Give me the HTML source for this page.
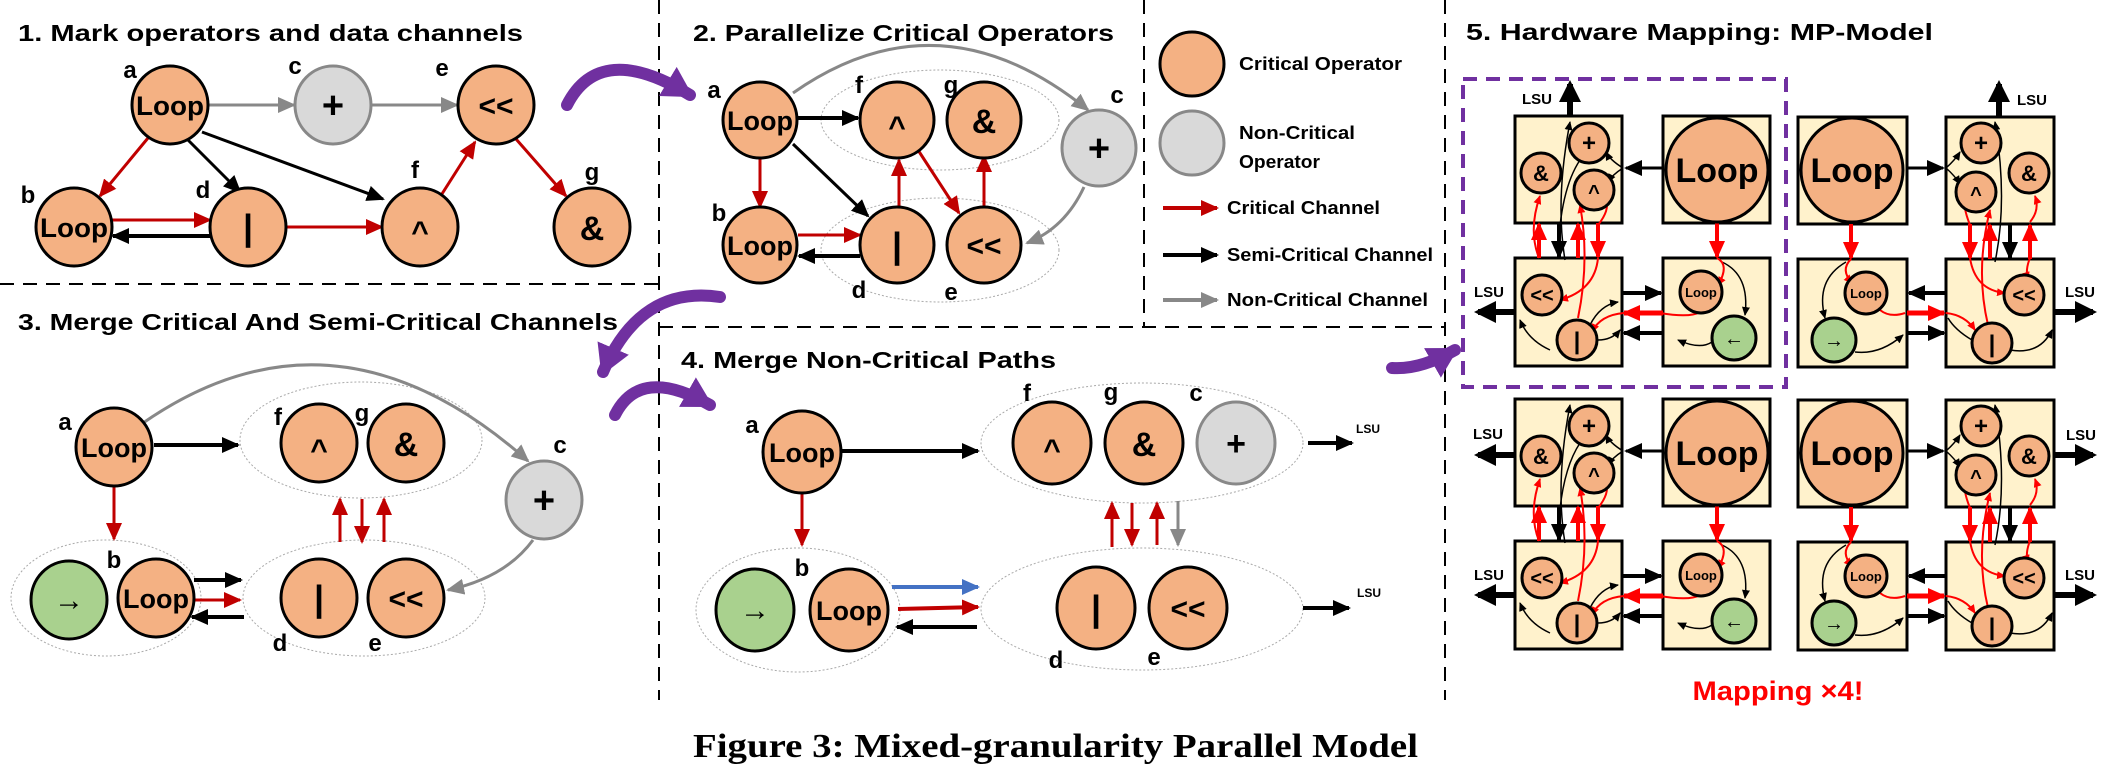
<!DOCTYPE html>
<html><head><meta charset="utf-8"><style>
html,body{margin:0;padding:0;background:#fff;}
svg{display:block;}
text{font-family:"Liberation Sans",sans-serif;font-weight:bold;}
</style></head><body>
<svg width="2108" height="776" viewBox="0 0 2108 776" xmlns="http://www.w3.org/2000/svg">
<defs>
<marker id="r" markerUnits="userSpaceOnUse" markerWidth="18" markerHeight="16" refX="16" refY="8" orient="auto"><path d="M0,0 L18,8 L0,16 z" fill="#c00000"/></marker>
<marker id="k" markerUnits="userSpaceOnUse" markerWidth="18" markerHeight="16" refX="16" refY="8" orient="auto"><path d="M0,0 L18,8 L0,16 z" fill="#000"/></marker>
<marker id="g" markerUnits="userSpaceOnUse" markerWidth="18" markerHeight="16" refX="16" refY="8" orient="auto"><path d="M0,0 L18,8 L0,16 z" fill="#888"/></marker>
<marker id="b" markerUnits="userSpaceOnUse" markerWidth="18" markerHeight="16" refX="16" refY="8" orient="auto"><path d="M0,0 L18,8 L0,16 z" fill="#4472c4"/></marker>
<marker id="R" markerUnits="userSpaceOnUse" markerWidth="18" markerHeight="16" refX="16" refY="8" orient="auto"><path d="M0,0 L18,8 L0,16 z" fill="#ff0000"/></marker>
<marker id="rs" markerUnits="userSpaceOnUse" markerWidth="9" markerHeight="8" refX="8" refY="4" orient="auto"><path d="M0,0 L9,4 L0,8 z" fill="#ff0000"/></marker>
<marker id="ks" markerUnits="userSpaceOnUse" markerWidth="9" markerHeight="8" refX="8" refY="4" orient="auto"><path d="M0,0 L9,4 L0,8 z" fill="#000"/></marker>
<marker id="p" markerUnits="userSpaceOnUse" markerWidth="34" markerHeight="34" refX="26" refY="17" orient="auto"><path d="M0,0 L30,17 L0,34 z" fill="#7030a0"/></marker>
<marker id="K" markerUnits="userSpaceOnUse" markerWidth="22" markerHeight="22" refX="18" refY="11" orient="auto"><path d="M0,0 L22,11 L0,22 z" fill="#000"/></marker>
</defs>

<g stroke="#000" stroke-width="2" stroke-dasharray="14,9" fill="none">
<line x1="659" y1="0" x2="659" y2="700"/>
<line x1="0" y1="284" x2="659" y2="284"/>
<line x1="1144" y1="0" x2="1144" y2="327"/>
<line x1="659" y1="327" x2="1445" y2="327"/>
<line x1="1445" y1="0" x2="1445" y2="700"/>
</g>

<g font-size="23" fill="#000">
<text x="18" y="41" textLength="505" lengthAdjust="spacingAndGlyphs">1. Mark operators and data channels</text>
<text x="693" y="41" textLength="421" lengthAdjust="spacingAndGlyphs">2. Parallelize Critical Operators</text>
<text x="18" y="330" textLength="600" lengthAdjust="spacingAndGlyphs">3. Merge Critical And Semi-Critical Channels</text>
<text x="681" y="368" textLength="375" lengthAdjust="spacingAndGlyphs">4. Merge Non-Critical Paths</text>
<text x="1466" y="40" textLength="467" lengthAdjust="spacingAndGlyphs">5. Hardware Mapping:  MP-Model</text>
</g>

<!-- PANEL 1 -->
<g stroke-width="3" fill="none">
<line x1="208" y1="105" x2="294" y2="105" stroke="#888" marker-end="url(#g)"/>
<line x1="372" y1="105" x2="457" y2="105" stroke="#888" marker-end="url(#g)"/>
<line x1="148" y1="138" x2="100" y2="196" stroke="#c00000" marker-end="url(#r)"/>
<line x1="188" y1="140" x2="240" y2="192" stroke="#000" marker-end="url(#k)"/>
<line x1="202" y1="132" x2="383" y2="199" stroke="#000" marker-end="url(#k)"/>
<line x1="112" y1="220" x2="210" y2="220" stroke="#c00000" marker-end="url(#r)"/>
<line x1="210" y1="236" x2="113" y2="236" stroke="#000" stroke-width="4" marker-end="url(#k)"/>
<line x1="282" y1="227" x2="382" y2="227" stroke="#c00000" marker-end="url(#r)"/>
<line x1="440" y1="197" x2="475" y2="142" stroke="#c00000" marker-end="url(#r)"/>
<line x1="516" y1="139" x2="566" y2="196" stroke="#c00000" marker-end="url(#r)"/>
</g>
<g stroke="#000" stroke-width="3" fill="#f4b183">
<ellipse cx="170" cy="105" rx="38" ry="39"/>
<ellipse cx="496" cy="105" rx="38" ry="39"/>
<ellipse cx="74" cy="227" rx="38" ry="39"/>
<ellipse cx="248" cy="227" rx="38" ry="39"/>
<ellipse cx="420" cy="227" rx="38" ry="39"/>
<ellipse cx="592" cy="227" rx="38" ry="39"/>
<ellipse cx="333" cy="105" rx="38" ry="39" fill="#d9d9d9" stroke="#888"/>
</g>
<g text-anchor="middle" fill="#000">
<text x="170" y="115" font-size="27" textLength="68" lengthAdjust="spacingAndGlyphs">Loop</text>
<text x="74" y="237" font-size="27" textLength="68" lengthAdjust="spacingAndGlyphs">Loop</text>
<text x="333" y="118" font-size="38">+</text>
<text x="496" y="116" font-size="30">&lt;&lt;</text>
<text x="248" y="240" font-size="36">|</text>
<text x="420" y="242" font-size="30">^</text>
<text x="592" y="240" font-size="34">&amp;</text>
</g>
<g font-size="24" fill="#000" text-anchor="middle">
<text x="130" y="78">a</text><text x="295" y="74">c</text><text x="442" y="76">e</text>
<text x="28" y="203">b</text><text x="203" y="198">d</text><text x="415" y="178">f</text><text x="592" y="180">g</text>
</g>

<!-- PANEL 2 -->
<g fill="none" stroke="#aaa" stroke-width="1" stroke-dasharray="2,2">
<ellipse cx="940" cy="120" rx="119" ry="50"/>
<ellipse cx="940" cy="250" rx="119" ry="52"/>
</g>
<g stroke-width="3" fill="none">
<path d="M793,93 Q940,-10 1088,110" stroke="#888" marker-end="url(#g)"/>
<path d="M1084,187 Q1065,228 1027,243" stroke="#888" marker-end="url(#g)"/>
<line x1="797" y1="118" x2="858" y2="118" stroke="#000" stroke-width="4" marker-end="url(#k)"/>
<line x1="793" y1="144" x2="868" y2="216" stroke="#000" marker-end="url(#k)"/>
<line x1="760" y1="155" x2="760" y2="207" stroke="#c00000" marker-end="url(#r)"/>
<line x1="798" y1="235" x2="860" y2="235" stroke="#c00000" marker-end="url(#r)"/>
<line x1="860" y1="256" x2="799" y2="256" stroke="#000" stroke-width="4" marker-end="url(#k)"/>
<line x1="899" y1="213" x2="899" y2="160" stroke="#c00000" marker-end="url(#r)"/>
<line x1="918" y1="150" x2="959" y2="213" stroke="#c00000" marker-end="url(#r)"/>
<line x1="984" y1="208" x2="984" y2="156" stroke="#c00000" marker-end="url(#r)"/>
</g>
<g stroke="#000" stroke-width="3" fill="#f4b183">
<ellipse cx="760" cy="120" rx="37" ry="38"/>
<ellipse cx="760" cy="245" rx="37" ry="38"/>
<ellipse cx="897" cy="120" rx="37" ry="38"/>
<ellipse cx="984" cy="120" rx="37" ry="38"/>
<ellipse cx="897" cy="245" rx="37" ry="38"/>
<ellipse cx="984" cy="245" rx="37" ry="38"/>
<ellipse cx="1099" cy="148" rx="37" ry="38" fill="#d9d9d9" stroke="#888"/>
</g>
<g text-anchor="middle" fill="#000">
<text x="760" y="130" font-size="27" textLength="66" lengthAdjust="spacingAndGlyphs">Loop</text>
<text x="760" y="255" font-size="27" textLength="66" lengthAdjust="spacingAndGlyphs">Loop</text>
<text x="897" y="137" font-size="30">^</text>
<text x="984" y="133" font-size="34">&amp;</text>
<text x="897" y="258" font-size="36">|</text>
<text x="984" y="256" font-size="30">&lt;&lt;</text>
<text x="1099" y="161" font-size="38">+</text>
</g>
<g font-size="24" fill="#000" text-anchor="middle">
<text x="714" y="98">a</text><text x="859" y="93">f</text><text x="951" y="93">g</text><text x="1117" y="103">c</text>
<text x="719" y="221">b</text><text x="859" y="298">d</text><text x="951" y="300">e</text>
</g>

<ellipse cx="1192" cy="64" rx="32" ry="32" fill="#f4b183" stroke="#000" stroke-width="3"/>
<ellipse cx="1192" cy="143" rx="32" ry="32" fill="#d9d9d9" stroke="#888" stroke-width="3"/>
<g stroke-width="4">
<line x1="1163" y1="208" x2="1217" y2="208" stroke="#c00000" marker-end="url(#r)"/>
<line x1="1163" y1="255" x2="1217" y2="255" stroke="#000" marker-end="url(#k)"/>
<line x1="1163" y1="300" x2="1217" y2="300" stroke="#888" marker-end="url(#g)"/>
</g>
<g font-size="18" fill="#000">
<text x="1239" y="70" textLength="163" lengthAdjust="spacingAndGlyphs">Critical Operator</text>
<text x="1239" y="139" textLength="116" lengthAdjust="spacingAndGlyphs">Non-Critical</text>
<text x="1239" y="168" textLength="81" lengthAdjust="spacingAndGlyphs">Operator</text>
<text x="1227" y="214" textLength="153" lengthAdjust="spacingAndGlyphs">Critical Channel</text>
<text x="1227" y="261" textLength="206" lengthAdjust="spacingAndGlyphs">Semi-Critical Channel</text>
<text x="1227" y="306" textLength="201" lengthAdjust="spacingAndGlyphs">Non-Critical Channel</text>
</g>

<!-- PANEL 3 -->
<g fill="none" stroke="#aaa" stroke-width="1" stroke-dasharray="2,2">
<ellipse cx="361" cy="440" rx="121" ry="58"/>
<ellipse cx="106" cy="598" rx="95" ry="58"/>
<ellipse cx="364" cy="598" rx="121" ry="58"/>
</g>
<g stroke-width="3" fill="none">
<path d="M143,423 Q335,290 528,461" stroke="#888" marker-end="url(#g)"/>
<path d="M533,540 Q505,578 448,590" stroke="#888" marker-end="url(#g)"/>
<line x1="154" y1="445" x2="238" y2="445" stroke="#000" stroke-width="4" marker-end="url(#k)"/>
<line x1="114" y1="487" x2="114" y2="539" stroke="#c00000" marker-end="url(#r)"/>
<line x1="340" y1="542" x2="340" y2="499" stroke="#c00000" marker-end="url(#r)"/>
<line x1="362" y1="499" x2="362" y2="542" stroke="#c00000" marker-end="url(#r)"/>
<line x1="384" y1="542" x2="384" y2="499" stroke="#c00000" marker-end="url(#r)"/>
<line x1="194" y1="580" x2="241" y2="580" stroke="#000" stroke-width="4" marker-end="url(#k)"/>
<line x1="194" y1="600" x2="240" y2="600" stroke="#c00000" marker-end="url(#r)"/>
<line x1="244" y1="617" x2="192" y2="617" stroke="#000" stroke-width="4" marker-end="url(#k)"/>
</g>
<g stroke="#000" stroke-width="3" fill="#f4b183">
<ellipse cx="114" cy="447" rx="38" ry="39"/>
<ellipse cx="319" cy="443" rx="38" ry="39"/>
<ellipse cx="406" cy="443" rx="38" ry="39"/>
<ellipse cx="69" cy="600" rx="38" ry="39" fill="#a9d18e"/>
<ellipse cx="156" cy="598" rx="38" ry="39"/>
<ellipse cx="319" cy="598" rx="38" ry="39"/>
<ellipse cx="406" cy="598" rx="38" ry="39"/>
<ellipse cx="544" cy="500" rx="38" ry="39" fill="#d9d9d9" stroke="#888"/>
</g>
<g text-anchor="middle" fill="#000">
<text x="114" y="457" font-size="27" textLength="66" lengthAdjust="spacingAndGlyphs">Loop</text>
<text x="156" y="608" font-size="27" textLength="66" lengthAdjust="spacingAndGlyphs">Loop</text>
<text x="319" y="460" font-size="30">^</text>
<text x="406" y="456" font-size="34">&amp;</text>
<text x="319" y="611" font-size="36">|</text>
<text x="406" y="609" font-size="30">&lt;&lt;</text>
<text x="544" y="513" font-size="38">+</text>
<text x="69" y="610" font-size="30">→</text>
</g>
<g font-size="24" fill="#000" text-anchor="middle">
<text x="65" y="430">a</text><text x="278" y="425">f</text><text x="362" y="421">g</text><text x="560" y="453">c</text>
<text x="114" y="568">b</text><text x="280" y="651">d</text><text x="375" y="651">e</text>
</g>

<!-- PANEL 4 -->
<g fill="none" stroke="#aaa" stroke-width="1" stroke-dasharray="2,2">
<ellipse cx="1142" cy="443" rx="161" ry="60"/>
<ellipse cx="798" cy="610" rx="102" ry="62"/>
<ellipse cx="1142" cy="609" rx="161" ry="61"/>
</g>
<g stroke-width="3" fill="none">
<line x1="842" y1="451" x2="978" y2="451" stroke="#000" stroke-width="4" marker-end="url(#k)"/>
<line x1="802" y1="493" x2="802" y2="545" stroke="#c00000" marker-end="url(#r)"/>
<line x1="892" y1="587" x2="978" y2="587" stroke="#4472c4" stroke-width="4" marker-end="url(#b)"/>
<line x1="898" y1="609" x2="978" y2="607" stroke="#c00000" stroke-width="4" marker-end="url(#r)"/>
<line x1="977" y1="627" x2="897" y2="627" stroke="#000" stroke-width="4" marker-end="url(#k)"/>
<line x1="1112" y1="547" x2="1112" y2="503" stroke="#c00000" marker-end="url(#r)"/>
<line x1="1132" y1="503" x2="1132" y2="545" stroke="#c00000" marker-end="url(#r)"/>
<line x1="1157" y1="545" x2="1157" y2="503" stroke="#c00000" marker-end="url(#r)"/>
<line x1="1178" y1="501" x2="1178" y2="545" stroke="#888" marker-end="url(#g)"/>
<line x1="1308" y1="443" x2="1352" y2="443" stroke="#000" stroke-width="4" marker-end="url(#k)"/>
<line x1="1303" y1="608" x2="1349" y2="608" stroke="#000" stroke-width="4" marker-end="url(#k)"/>
</g>
<g stroke="#000" stroke-width="3" fill="#f4b183">
<ellipse cx="802" cy="452" rx="39" ry="41"/>
<ellipse cx="1052" cy="443" rx="39" ry="41"/>
<ellipse cx="1144" cy="443" rx="39" ry="41"/>
<ellipse cx="1236" cy="443" rx="39" ry="41" fill="#d9d9d9" stroke="#888"/>
<ellipse cx="755" cy="610" rx="39" ry="41" fill="#a9d18e"/>
<ellipse cx="849" cy="610" rx="39" ry="41"/>
<ellipse cx="1096" cy="608" rx="39" ry="41"/>
<ellipse cx="1188" cy="608" rx="39" ry="41"/>
</g>
<g text-anchor="middle" fill="#000">
<text x="802" y="462" font-size="27" textLength="66" lengthAdjust="spacingAndGlyphs">Loop</text>
<text x="849" y="620" font-size="27" textLength="66" lengthAdjust="spacingAndGlyphs">Loop</text>
<text x="1052" y="460" font-size="30">^</text>
<text x="1144" y="456" font-size="34">&amp;</text>
<text x="1236" y="455" font-size="34" font-weight="normal">+</text>
<text x="1096" y="621" font-size="36">|</text>
<text x="1188" y="619" font-size="30">&lt;&lt;</text>
<text x="755" y="620" font-size="30">→</text>
</g>
<g font-size="24" fill="#000" text-anchor="middle">
<text x="752" y="433">a</text><text x="1027" y="401">f</text><text x="1111" y="400">g</text><text x="1196" y="401">c</text>
<text x="802" y="576">b</text><text x="1056" y="668">d</text><text x="1154" y="665">e</text>
</g>
<g font-size="12" fill="#000"><text x="1356" y="433">LSU</text><text x="1357" y="597">LSU</text></g>

<g stroke="#7030a0" stroke-width="12" fill="none" stroke-linecap="round">
<path d="M567,105 Q600,40 690,95" marker-end="url(#p)"/>
<path d="M720,297 Q640,285 603,372" marker-end="url(#p)"/>
<path d="M615,415 Q640,365 710,405" marker-end="url(#p)"/>
<path d="M1392,368 Q1420,370 1455,350" marker-end="url(#p)"/>
</g>

<!-- PANEL 5 -->
<rect x="1463" y="79" width="323" height="308" fill="none" stroke="#7030a0" stroke-width="4" stroke-dasharray="14,9"/>

<g id="unit">
<g fill="#fff2cc" stroke="#000" stroke-width="3">
<rect x="1515" y="116" width="107" height="107"/>
<rect x="1663" y="116" width="107" height="107"/>
<rect x="1798" y="117" width="109" height="107"/>
<rect x="1946" y="117" width="108" height="107"/>
<rect x="1515" y="258" width="107" height="108"/>
<rect x="1663" y="258" width="107" height="108"/>
<rect x="1798" y="259" width="109" height="108"/>
<rect x="1946" y="259" width="108" height="108"/>
</g>
<g fill="none" stroke="#000" stroke-width="1.5">
<path d="M1565,260 Q1555,200 1570,122" marker-end="url(#ks)"/>
<path d="M1580,160 Q1560,190 1558,255"/>
<path d="M1550,350 Q1528,340 1520,320" marker-end="url(#ks)"/>
<path d="M1590,325 Q1600,305 1618,302" marker-end="url(#ks)"/>
<path d="M1598,340 Q1612,340 1620,330" marker-end="url(#ks)"/>
<path d="M1722,262 Q1750,275 1745,315" marker-end="url(#ks)"/>
<path d="M1712,342 Q1700,350 1678,340" marker-end="url(#ks)"/>
<path d="M1623,168 Q1610,160 1606,152" marker-end="url(#ks)"/>
<path d="M1623,168 Q1612,175 1608,182" marker-end="url(#ks)"/>
<path d="M1995,262 Q2008,200 1995,122" marker-end="url(#ks)"/>
<path d="M1846,262 Q1815,280 1825,318" marker-end="url(#ks)"/>
<path d="M1855,352 Q1880,355 1903,335" marker-end="url(#ks)"/>
<path d="M1972,340 Q1955,330 1948,318"/>
<path d="M2010,350 Q2040,355 2052,330" marker-end="url(#ks)"/>
<path d="M1946,168 Q1955,160 1960,152" marker-end="url(#ks)"/>
<path d="M1946,168 Q1955,176 1960,184" marker-end="url(#ks)"/>
</g>
<g fill="none" stroke="#ff0000" stroke-width="2">
<path d="M1539,258 Q1528,230 1540,196" marker-end="url(#rs)"/>
<path d="M1578,318 Q1590,260 1580,205" marker-end="url(#rs)"/>
<path d="M1598,225 Q1610,210 1606,200"/>
<path d="M1598,258 Q1595,290 1560,300" marker-end="url(#rs)"/>
<path d="M1717,258 Q1730,265 1718,285" marker-end="url(#rs)"/>
<path d="M1700,312 Q1690,318 1660,313"/>
<path d="M1624,313 Q1600,315 1592,332" marker-end="url(#rs)"/>
<path d="M1851,259 Q1840,270 1852,283" marker-end="url(#rs)"/>
<path d="M1880,310 Q1890,318 1905,313"/>
<path d="M1946,313 Q1965,315 1975,330" marker-end="url(#rs)"/>
<path d="M1970,225 Q1962,205 1966,198"/>
<path d="M1988,325 Q1975,270 1990,210" marker-end="url(#rs)"/>
<path d="M1970,258 Q1975,290 2005,293" marker-end="url(#rs)"/>
<path d="M2030,258 Q2025,270 2028,280" marker-end="url(#rs)"/>
<path d="M2030,222 Q2040,210 2035,196" marker-end="url(#rs)"/>
</g>
<g stroke-width="3" fill="none">
<line x1="1662" y1="168" x2="1626" y2="168" stroke="#000" marker-end="url(#k)"/>
<line x1="1907" y1="168" x2="1943" y2="168" stroke="#000" marker-end="url(#k)"/>
<line x1="1622" y1="293" x2="1661" y2="293" stroke="#000" stroke-width="4" marker-end="url(#k)"/>
<line x1="1663" y1="313" x2="1624" y2="313" stroke="#ff0000" stroke-width="5" marker-end="url(#R)"/>
<line x1="1663" y1="333" x2="1624" y2="333" stroke="#000" stroke-width="4" marker-end="url(#k)"/>
<line x1="1946" y1="293" x2="1909" y2="293" stroke="#000" stroke-width="4" marker-end="url(#k)"/>
<line x1="1907" y1="313" x2="1944" y2="313" stroke="#ff0000" stroke-width="5" marker-end="url(#R)"/>
<line x1="1907" y1="333" x2="1944" y2="333" stroke="#000" stroke-width="4" marker-end="url(#k)"/>
<line x1="1539" y1="258" x2="1539" y2="224" stroke="#ff0000" stroke-width="4" marker-end="url(#R)"/>
<line x1="1559" y1="223" x2="1559" y2="257" stroke="#000" stroke-width="4" marker-end="url(#k)"/>
<line x1="1578" y1="258" x2="1578" y2="224" stroke="#ff0000" stroke-width="4" marker-end="url(#R)"/>
<line x1="1598" y1="223" x2="1598" y2="257" stroke="#ff0000" stroke-width="4" marker-end="url(#R)"/>
<line x1="1717" y1="223" x2="1717" y2="257" stroke="#ff0000" stroke-width="4" marker-end="url(#R)"/>
<line x1="1851" y1="224" x2="1851" y2="258" stroke="#ff0000" stroke-width="4" marker-end="url(#R)"/>
<line x1="1970" y1="224" x2="1970" y2="258" stroke="#ff0000" stroke-width="4" marker-end="url(#R)"/>
<line x1="1990" y1="259" x2="1990" y2="225" stroke="#ff0000" stroke-width="4" marker-end="url(#R)"/>
<line x1="2010" y1="224" x2="2010" y2="258" stroke="#000" stroke-width="4" marker-end="url(#k)"/>
<line x1="2030" y1="259" x2="2030" y2="225" stroke="#ff0000" stroke-width="4" marker-end="url(#R)"/>
</g>
<g stroke="#000" stroke-width="3" fill="#f4b183">
<ellipse cx="1717" cy="170" rx="51" ry="52"/>
<ellipse cx="1852" cy="170" rx="51" ry="52"/>
<circle cx="1541" cy="173" r="20"/>
<circle cx="1589" cy="143" r="20"/>
<circle cx="1594" cy="190" r="20"/>
<circle cx="1542" cy="295" r="20"/>
<circle cx="1577" cy="340" r="20"/>
<circle cx="1701" cy="292" r="21"/>
<circle cx="1734" cy="338" r="22" fill="#a9d18e"/>
<circle cx="1981" cy="143" r="20"/>
<circle cx="1976" cy="192" r="20"/>
<circle cx="2029" cy="173" r="20"/>
<circle cx="1866" cy="293" r="21"/>
<circle cx="1834" cy="340" r="22" fill="#a9d18e"/>
<circle cx="2024" cy="295" r="20"/>
<circle cx="1992" cy="343" r="20"/>
</g>
<g text-anchor="middle" fill="#000">
<text x="1717" y="182" font-size="34">Loop</text>
<text x="1852" y="182" font-size="34">Loop</text>
<text x="1541" y="181" font-size="22">&amp;</text>
<text x="1589" y="151" font-size="24">+</text>
<text x="1594" y="199" font-size="20">^</text>
<text x="1542" y="302" font-size="20">&lt;&lt;</text>
<text x="1577" y="349" font-size="24">|</text>
<text x="1701" y="297" font-size="13" font-weight="normal">Loop</text>
<text x="1734" y="345" font-size="20">←</text>
<text x="1981" y="151" font-size="24">+</text>
<text x="1976" y="201" font-size="20">^</text>
<text x="2029" y="181" font-size="22">&amp;</text>
<text x="1866" y="298" font-size="13" font-weight="normal">Loop</text>
<text x="1834" y="347" font-size="20">→</text>
<text x="2024" y="302" font-size="20">&lt;&lt;</text>
<text x="1992" y="352" font-size="24">|</text>
</g>
</g>
<use href="#unit" transform="translate(0,283)"/>

<g stroke="#000" stroke-width="6" fill="none">
<line x1="1570" y1="116" x2="1570" y2="84" marker-end="url(#K)"/>
<line x1="1999" y1="117" x2="1999" y2="84" marker-end="url(#K)"/>
<line x1="1515" y1="312" x2="1478" y2="312" marker-end="url(#K)"/>
<line x1="2054" y1="312" x2="2093" y2="312" marker-end="url(#K)"/>
<line x1="1515" y1="455" x2="1478" y2="455" marker-end="url(#K)"/>
<line x1="2054" y1="455" x2="2093" y2="455" marker-end="url(#K)"/>
<line x1="1515" y1="595" x2="1478" y2="595" marker-end="url(#K)"/>
<line x1="2054" y1="595" x2="2093" y2="595" marker-end="url(#K)"/>
</g>
<g font-size="15" fill="#000" text-anchor="middle">
<text x="1537" y="104">LSU</text>
<text x="2032" y="105">LSU</text>
<text x="1489" y="297">LSU</text>
<text x="2080" y="297">LSU</text>
<text x="1488" y="439">LSU</text>
<text x="2081" y="440">LSU</text>
<text x="1489" y="580">LSU</text>
<text x="2080" y="580">LSU</text>
</g>
<text x="1778" y="700" font-size="27" fill="#ff0000" text-anchor="middle" textLength="171" lengthAdjust="spacingAndGlyphs">Mapping ×4!</text>

<text x="693" y="757" font-size="34" fill="#000" textLength="725" lengthAdjust="spacingAndGlyphs" style="font-family:'Liberation Serif',serif;font-weight:bold">Figure 3: Mixed-granularity Parallel Model</text>
</svg>
</body></html>
